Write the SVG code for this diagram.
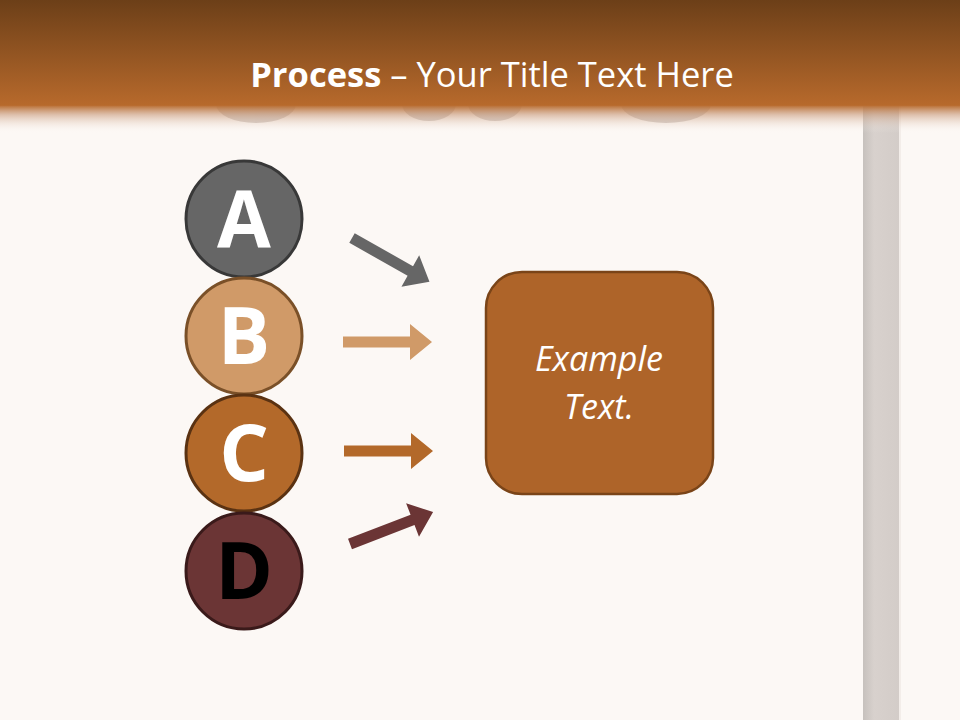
<svg xmlns="http://www.w3.org/2000/svg" width="960" height="720" viewBox="0 0 960 720">
<defs>
<linearGradient id="hdr" x1="0" y1="0" x2="0" y2="1">
<stop offset="0" stop-color="#6c3f18"/>
<stop offset="1" stop-color="#b86a2c"/>
</linearGradient>
<linearGradient id="fade" x1="0" y1="0" x2="0" y2="1">
<stop offset="0" stop-color="#b86a2c" stop-opacity="1"/>
<stop offset="0.35" stop-color="#c99a7a" stop-opacity="0.6"/>
<stop offset="1" stop-color="#fcf8f5" stop-opacity="0"/>
</linearGradient>
<linearGradient id="pillar" x1="0" y1="0" x2="1" y2="0">
<stop offset="0" stop-color="#c6c1bd"/>
<stop offset="0.3" stop-color="#d8d1cd"/>
<stop offset="1" stop-color="#d3ccc8"/>
</linearGradient>
<path id="arw" d="M0,-5.5 H67 V-18 L89,0 L67,18 V5.5 H0 Z"/>
</defs>
<style>
.letter{font-family:"Open Sans","Noto Sans",sans-serif;font-weight:700;font-size:78px;text-anchor:middle}
.title{font-family:"Open Sans","Noto Sans",sans-serif;font-size:34.5px;fill:#ffffff}
.box{font-family:"Open Sans","Noto Sans",sans-serif;font-style:italic;font-size:34px;fill:#ffffff;text-anchor:middle}
</style>
<rect width="960" height="720" fill="#fcf8f5"/>
<rect x="863" y="100" width="37" height="620" fill="url(#pillar)"/>
<rect x="899" y="100" width="2" height="620" fill="#f3ede9"/>
<g fill="#a89a92" opacity="0.5">
<ellipse cx="256" cy="104" rx="40" ry="19"/>
<ellipse cx="429" cy="104" rx="27" ry="17"/>
<ellipse cx="495" cy="104" rx="27" ry="17"/>
<ellipse cx="666" cy="104" rx="45" ry="19"/>
</g>
<rect x="0" y="0" width="960" height="106" fill="url(#hdr)"/>
<rect x="0" y="105" width="960" height="28" fill="url(#fade)"/>
<text class="title" x="492" y="87" text-anchor="middle"><tspan font-weight="700">Process</tspan> – Your Title Text Here</text>

<g id="connectors">
<use href="#arw" fill="#666666" transform="translate(352,238) rotate(29.5)"/>
<use href="#arw" fill="#d09a68" transform="translate(343,342)"/>
<use href="#arw" fill="#b3692a" transform="translate(344,451)"/>
<use href="#arw" fill="#6b3535" transform="translate(350,544) rotate(-21)"/>
</g>

<g id="node-a">
<circle cx="244" cy="219" r="58" fill="#666666" stroke="#383838" stroke-width="3"/>
<text class="letter" x="244" y="247" fill="#ffffff">A</text>
</g>
<g id="node-b">
<circle cx="244" cy="336" r="58" fill="#d09a68" stroke="#7a5028" stroke-width="3"/>
<text class="letter" x="244" y="364" fill="#ffffff">B</text>
</g>
<g id="node-c">
<circle cx="244" cy="453" r="58" fill="#b3692a" stroke="#5a3212" stroke-width="3"/>
<text class="letter" x="244" y="481" fill="#ffffff">C</text>
</g>
<g id="node-d">
<circle cx="244" cy="571" r="58" fill="#6b3535" stroke="#3a1a1a" stroke-width="3"/>
<text class="letter" x="244" y="599" fill="#000000">D</text>
</g>
<g id="node-box">
<rect x="486" y="272" width="227" height="222" rx="36" fill="#ae6429" stroke="#7a4418" stroke-width="2.5"/>
<text class="box" x="599" y="371">Example</text>
<text class="box" x="599" y="419">Text.</text>
</g>
</svg>
